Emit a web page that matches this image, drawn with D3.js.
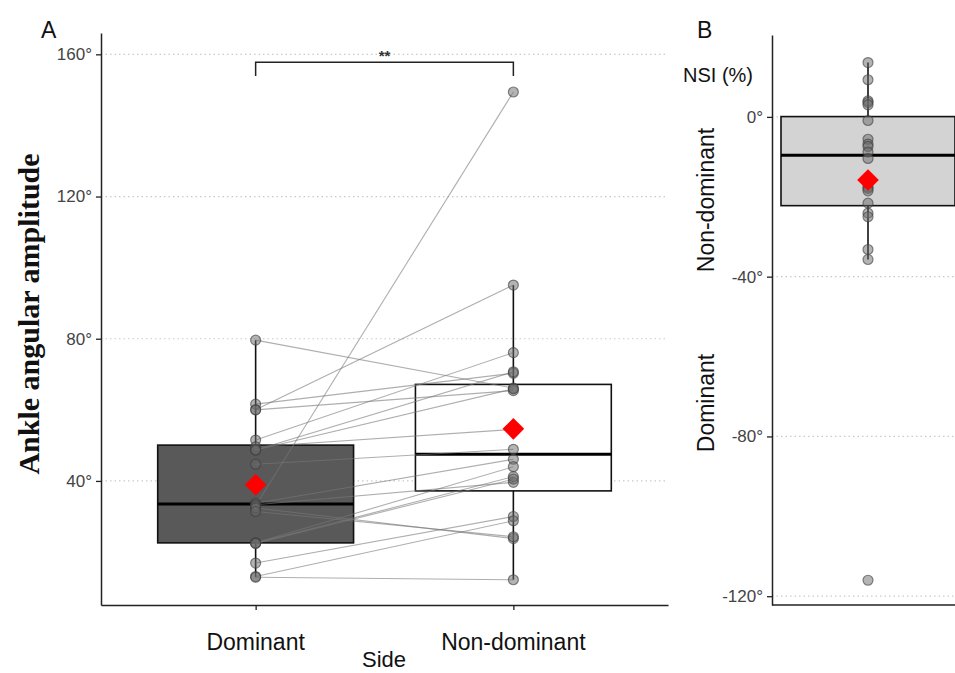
<!DOCTYPE html>
<html><head><meta charset="utf-8">
<script src="https://cdn.jsdelivr.net/npm/d3@7"></script>
<style>
body{margin:0;background:#fff;}
svg{display:block;}
text{font-family:"Liberation Sans",Arial,sans-serif;}
</style></head>
<body>
<svg id="chart" width="955" height="673"></svg>
<script>
// ---- data ----
const sides = ["Dominant", "Non-dominant"];
const dominant    = [79.6, 61.6, 60.0, 60.0, 51.5, 49.6, 48.7, 48.7, 44.7, 33.7, 33.3, 33.0, 32.4, 31.4, 22.6, 22.5, 22.4, 16.9, 13.1, 12.9];
const nonDominant = [66.1, 70.3, 95.1, 65.4, 76.1, 54.5, 70.7, 65.9, 48.9, 46.1, 39.6, 149.4, 23.8, 24.3, 44.0, 41.2, 40.5, 30.0, 28.8, 12.2];
const nsi = [13.6, 9.3, 4.0, 3.6, 3.0, -0.9, -5.6, -6.8, -7.4, -8.8, -10.4, -17.5, -17.9, -18.5, -21.6, -24.1, -25.0, -33.2, -35.7, -116];
const yTicksA = [40, 80, 120, 160];
const yTicksB = [0, -40, -80, -120];
const bracket = {y: 157.8, tip: 153.9, label: "**"};

const svg = d3.select("#chart");

function stats(arr){
  const s = arr.slice().sort(d3.ascending);
  const q1 = d3.quantile(s, 0.25), med = d3.quantile(s, 0.5), q3 = d3.quantile(s, 0.75);
  const iqr = q3 - q1;
  const lo = d3.min(s.filter(v => v >= q1 - 1.5*iqr));
  const hi = d3.max(s.filter(v => v <= q3 + 1.5*iqr));
  return {q1, med, q3, lo, hi, mean: d3.mean(s)};
}

const ptFill = "rgba(105,105,105,0.5)", ptStroke = "rgba(60,60,60,0.6)";
const gridColor = "#c9c9c9";

// ---------- Panel A ----------
const xA = d3.scalePoint().domain(sides).range([101, 668]).padding(0.6);
const yA = d3.scaleLinear().domain([5.1, 166]).range([605, 33]);
const step = xA.step();
const boxHalf = step * 0.38;

const gA = svg.append("g");
gA.selectAll("line.grid").data(yTicksA).join("line")
  .attr("x1", 101).attr("x2", 668).attr("y1", d => yA(d)).attr("y2", d => yA(d))
  .attr("stroke", gridColor).attr("stroke-width", 1.2).attr("stroke-dasharray", "1.5,3");

const seriesA = [dominant, nonDominant];
const fills = ["#595959", "#ffffff"];
seriesA.forEach((arr, i) => {
  const st = stats(arr), cx = xA(sides[i]);
  gA.append("line").attr("x1", cx).attr("x2", cx).attr("y1", yA(st.q3)).attr("y2", yA(st.hi))
    .attr("stroke", "#111").attr("stroke-width", 1.6);
  gA.append("line").attr("x1", cx).attr("x2", cx).attr("y1", yA(st.q1)).attr("y2", yA(st.lo))
    .attr("stroke", "#111").attr("stroke-width", 1.6);
  gA.append("rect").attr("x", cx - boxHalf).attr("width", boxHalf*2)
    .attr("y", yA(st.q3)).attr("height", yA(st.q1) - yA(st.q3))
    .attr("fill", fills[i]).attr("stroke", "#111").attr("stroke-width", 1.6);
  gA.append("line").attr("x1", cx - boxHalf).attr("x2", cx + boxHalf)
    .attr("y1", yA(st.med)).attr("y2", yA(st.med)).attr("stroke", "#000").attr("stroke-width", 3);
});
gA.selectAll("line.pair").data(dominant.map((d, i) => [d, nonDominant[i]])).join("line")
  .attr("x1", xA(sides[0])).attr("x2", xA(sides[1]))
  .attr("y1", d => yA(d[0])).attr("y2", d => yA(d[1]))
  .attr("stroke", "rgba(120,120,120,0.6)").attr("stroke-width", 1.1);
seriesA.forEach((arr, i) => {
  gA.selectAll(null).data(arr).join("circle")
    .attr("cx", xA(sides[i])).attr("cy", d => yA(d)).attr("r", 5)
    .attr("fill", ptFill).attr("stroke", ptStroke).attr("stroke-width", 1.2);
});
const diamond = d3.symbol().type(d3.symbolDiamond2).size(300);
seriesA.forEach((arr, i) => {
  const st = stats(arr);
  gA.append("path").attr("d", diamond)
    .attr("transform", `translate(${xA(sides[i])},${yA(st.mean)})`).attr("fill", "#ff0000");
});
const axA = gA.append("g").attr("transform", "translate(101,0)")
  .call(d3.axisLeft(yA).tickValues(yTicksA).tickFormat(d => d + "°").tickSize(5).tickSizeOuter(0));
const axAx = gA.append("g").attr("transform", "translate(0,605)")
  .call(d3.axisBottom(xA).tickSize(5).tickSizeOuter(0).tickFormat(""));
[axA, axAx].forEach(a => {
  a.select(".domain").attr("stroke", "#222").attr("stroke-width", 1.5);
  a.selectAll(".tick line").attr("stroke", "#222").attr("stroke-width", 1.3);
});
axA.selectAll(".tick text").attr("font-size", 17).attr("fill", "#444").attr("x", -9)
  .style("font-family", "'Liberation Sans',Arial,sans-serif");
gA.selectAll("text.cat").data(sides).join("text")
  .attr("x", d => xA(d)).attr("y", 650).attr("text-anchor", "middle")
  .attr("font-size", 23).attr("fill", "#111").text(d => d);
gA.append("text").attr("x", 384).attr("y", 667).attr("text-anchor", "middle")
  .attr("font-size", 22).attr("fill", "#111").text("Side");
gA.append("text").attr("transform", "translate(39,314) rotate(-90)").attr("text-anchor", "middle")
  .style("font-family", "'Liberation Serif','Times New Roman',serif")
  .attr("font-weight", "bold").attr("font-size", 30).attr("fill", "#111").text("Ankle angular amplitude");
gA.append("text").attr("x", 41).attr("y", 38).attr("font-size", 23).attr("fill", "#111").text("A");
gA.append("path")
  .attr("d", `M${xA(sides[0])},${yA(bracket.tip)}V${yA(bracket.y)}H${xA(sides[1])}V${yA(bracket.tip)}`)
  .attr("fill", "none").attr("stroke", "#222").attr("stroke-width", 1.5);
gA.append("text").attr("x", (xA(sides[0]) + xA(sides[1]))/2).attr("y", yA(bracket.y) - 1)
  .attr("text-anchor", "middle").attr("font-size", 15).attr("font-weight", "bold").attr("fill", "#333").text(bracket.label);

// ---------- Panel B ----------
const xB = d3.scalePoint().domain(["NSI"]).range([772, 964]).padding(0.5);
const yB = d3.scaleLinear().domain([-122.2, 20.5]).range([605, 35]);
const gB = svg.append("g");
gB.selectAll("line.grid").data(yTicksB).join("line")
  .attr("x1", 772).attr("x2", 955).attr("y1", d => yB(d)).attr("y2", d => yB(d))
  .attr("stroke", gridColor).attr("stroke-width", 1.2).attr("stroke-dasharray", "1.5,3");
const sB = stats(nsi), cB = xB("NSI"), halfB = 87;
gB.append("line").attr("x1", cB).attr("x2", cB).attr("y1", yB(sB.q3)).attr("y2", yB(sB.hi)).attr("stroke", "#111").attr("stroke-width", 1.6);
gB.append("line").attr("x1", cB).attr("x2", cB).attr("y1", yB(sB.q1)).attr("y2", yB(sB.lo)).attr("stroke", "#111").attr("stroke-width", 1.6);
gB.append("rect").attr("x", cB - halfB).attr("width", halfB*2).attr("y", yB(sB.q3)).attr("height", yB(sB.q1) - yB(sB.q3))
  .attr("fill", "#d3d3d3").attr("stroke", "#111").attr("stroke-width", 1.6);
gB.append("line").attr("x1", cB - halfB).attr("x2", cB + halfB).attr("y1", yB(sB.med)).attr("y2", yB(sB.med)).attr("stroke", "#000").attr("stroke-width", 3);
gB.selectAll("circle").data(nsi).join("circle")
  .attr("cx", cB).attr("cy", d => yB(d)).attr("r", 5)
  .attr("fill", ptFill).attr("stroke", ptStroke).attr("stroke-width", 1.2);
gB.append("path").attr("d", diamond).attr("transform", `translate(${cB},${yB(sB.mean)})`).attr("fill", "#ff0000");
const axB = gB.append("g").attr("transform", "translate(772,0)")
  .call(d3.axisLeft(yB).tickValues(yTicksB).tickFormat(d => d + "°").tickSize(5).tickSizeOuter(0));
axB.select(".domain").attr("stroke", "#222").attr("stroke-width", 1.5);
axB.selectAll(".tick line").attr("stroke", "#222").attr("stroke-width", 1.3);
axB.selectAll(".tick text").attr("font-size", 17).attr("fill", "#444").attr("x", -9)
  .style("font-family", "'Liberation Sans',Arial,sans-serif");
gB.append("line").attr("x1", 772).attr("x2", 955).attr("y1", 605).attr("y2", 605).attr("stroke", "#222").attr("stroke-width", 1.5);
gB.append("text").attr("x", 697).attr("y", 38).attr("font-size", 23).attr("fill", "#111").text("B");
gB.append("text").attr("x", 683).attr("y", 82).attr("font-size", 20).attr("fill", "#111").text("NSI (%)");
gB.append("text").attr("transform", "translate(714,200) rotate(-90)").attr("text-anchor", "middle")
  .attr("font-size", 23).attr("fill", "#111").text("Non-dominant");
gB.append("text").attr("transform", "translate(714,403) rotate(-90)").attr("text-anchor", "middle")
  .attr("font-size", 23).attr("fill", "#111").text("Dominant");
</script>
</body></html>
